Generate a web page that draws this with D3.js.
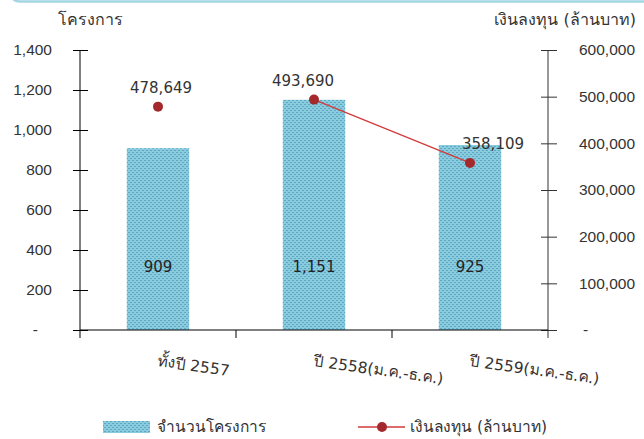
<!DOCTYPE html>
<html>
<head>
<meta charset="utf-8">
<script src="https://cdn.jsdelivr.net/npm/d3@7"></script>
<style>
  body { margin: 0; background: #fff; }
  svg { display: block; font-family: "DejaVu Sans", "Noto Sans", sans-serif; }
  .tick text, .lbl { fill: #333; }
</style>
</head>
<body>
<svg id="chart" width="644" height="439"></svg>
<script>
// data
var categories = ['ทั้งปี 2557', 'ปี 2558(ม.ค.-ธ.ค.)', 'ปี 2559(ม.ค.-ธ.ค.)'];
var projects = [909, 1151, 925];
var invest = [478649, 493690, 358109];
var investJoined = [false, true, true];
var leftTicks = [0, 200, 400, 600, 800, 1000, 1200, 1400];
var rightTicks = [0, 100000, 200000, 300000, 400000, 500000, 600000];
var labelDx = [3, -11, 23];

var svg = d3.select('#chart');
var fmt = d3.format(',');

var x = d3.scaleBand().domain(categories).range([80, 548]);
var yL = d3.scaleLinear().domain([0, 1400]).range([330, 50]);
var yR = d3.scaleLinear().domain([0, 600000]).range([330, 50]);

// top frame edge
svg.append('path')
  .attr('d', 'M12,-6 Q12,1.5 20,1.5 L644,1.5')
  .attr('fill', 'none')
  .attr('stroke', '#a3d6e3')
  .attr('stroke-width', 2.5);

// bar pattern
var defs = svg.append('defs');
var pat = defs.append('pattern')
  .attr('id', 'dots')
  .attr('width', 4).attr('height', 4)
  .attr('patternUnits', 'userSpaceOnUse');
pat.append('rect').attr('width', 4).attr('height', 4).attr('fill', '#8acbdd');
pat.append('rect').attr('x', 0).attr('y', 0).attr('width', 2).attr('height', 1).attr('fill', '#5aa8c3');
pat.append('rect').attr('x', 2).attr('y', 2).attr('width', 2).attr('height', 1).attr('fill', '#5aa8c3');

// left axis
var axL = svg.append('g')
  .attr('transform', 'translate(80,0)')
  .call(d3.axisLeft(yL).tickValues(leftTicks).tickSize(7).tickPadding(21)
    .tickFormat(function(d){ return d === 0 ? '-' : fmt(d); }));
axL.select('.domain').remove();
axL.selectAll('.tick line').attr('stroke', '#000');
axL.selectAll('.tick').append('line').attr('x2', 8).attr('stroke', '#000');
axL.selectAll('.tick text').style('font-size', '15.5px')
  .attr('dx', function(d){ return d === 0 ? -14 : 0; });
svg.append('line').attr('x1', 80).attr('x2', 80).attr('y1', 50).attr('y2', 338)
  .attr('stroke', '#000');

// right axis
var axR = svg.append('g')
  .attr('transform', 'translate(548,0)')
  .call(d3.axisRight(yR).tickValues(rightTicks).tickSize(9).tickPadding(22)
    .tickFormat(function(d){ return d === 0 ? '-' : fmt(d); }));
axR.select('.domain').remove();
axR.selectAll('.tick line').attr('stroke', '#333');
axR.selectAll('.tick').append('line').attr('x2', -7).attr('stroke', '#333');
axR.selectAll('.tick text').style('font-size', '15.5px')
  .attr('dx', function(d){ return d === 0 ? 4 : 0; });
svg.append('line').attr('x1', 548).attr('x2', 548).attr('y1', 50).attr('y2', 338)
  .attr('stroke', '#333');

// bars
var bw = x.bandwidth() * 0.4;
svg.selectAll('.bar').data(projects).enter().append('rect')
  .attr('class', 'bar')
  .attr('x', function(d, i){ return x(categories[i]) + (x.bandwidth() - bw) / 2; })
  .attr('y', function(d){ return yL(d); })
  .attr('width', bw)
  .attr('height', function(d){ return yL(0) - yL(d); })
  .attr('fill', 'url(#dots)');

svg.selectAll('.barlbl').data(projects).enter().append('text')
  .attr('class', 'lbl')
  .attr('x', function(d, i){ return x(categories[i]) + x.bandwidth() / 2; })
  .attr('y', yL(0) - 58)
  .attr('text-anchor', 'middle')
  .style('font-size', '15px')
  .style('fill', '#222')
  .text(function(d){ return fmt(d); });

// x axis
svg.append('line').attr('x1', 80).attr('x2', 548).attr('y1', 330).attr('y2', 330)
  .attr('stroke', '#000');
svg.selectAll('.xtick').data(categories.slice(1)).enter().append('line')
  .attr('x1', function(d){ return x(d); })
  .attr('x2', function(d){ return x(d); })
  .attr('y1', 330).attr('y2', 338)
  .attr('stroke', '#000');
svg.selectAll('.xlbl').data(categories).enter().append('text')
  .attr('class', 'lbl')
  .attr('transform', function(d){
    return 'translate(' + (x(d) + x.bandwidth() / 2 - 1) + ',366) rotate(8)';
  })
  .style('font-size', '15.5px')
  .text(function(d){ return d; });

// line
var line = d3.line()
  .defined(function(d, i){ return investJoined[i]; })
  .x(function(d, i){ return x(categories[i]) + x.bandwidth() / 2; })
  .y(function(d){ return yR(d); });
svg.append('path').datum(invest)
  .attr('d', line)
  .attr('fill', 'none')
  .attr('stroke', '#d23a3a')
  .attr('stroke-width', 1.3);

svg.selectAll('.pt').data(invest).enter().append('circle')
  .attr('cx', function(d, i){ return x(categories[i]) + x.bandwidth() / 2; })
  .attr('cy', function(d){ return yR(d); })
  .attr('r', 5)
  .attr('fill', '#a3292c');

svg.selectAll('.ptlbl').data(invest).enter().append('text')
  .attr('class', 'lbl')
  .attr('x', function(d, i){ return x(categories[i]) + x.bandwidth() / 2 + labelDx[i]; })
  .attr('y', function(d){ return yR(d) - 14; })
  .attr('text-anchor', 'middle')
  .style('font-size', '15px')
  .text(function(d){ return fmt(d); });

// axis titles
svg.append('text').attr('class', 'lbl')
  .attr('x', 90).attr('y', 25)
  .attr('text-anchor', 'middle')
  .style('font-size', '16px')
  .text('โครงการ');
svg.append('text').attr('class', 'lbl')
  .attr('x', 636).attr('y', 25)
  .attr('text-anchor', 'end')
  .style('font-size', '16px')
  .text('เงินลงทุน (ล้านบาท)');

// legend
var leg = svg.append('g').attr('transform', 'translate(0,427)');
leg.append('rect').attr('x', 103).attr('y', -6).attr('width', 47).attr('height', 12)
  .attr('fill', 'url(#dots)');
leg.append('text').attr('class', 'lbl').attr('x', 157).attr('y', 5)
  .style('font-size', '15.5px').text('จำนวนโครงการ');
leg.append('line').attr('x1', 358).attr('x2', 405).attr('y1', 0).attr('y2', 0)
  .attr('stroke', '#d23a3a').attr('stroke-width', 1.3);
leg.append('circle').attr('cx', 382).attr('cy', 0).attr('r', 5).attr('fill', '#a3292c');
leg.append('text').attr('class', 'lbl').attr('x', 410).attr('y', 5)
  .style('font-size', '15.5px').text('เงินลงทุน (ล้านบาท)');
</script>
</body>
</html>
